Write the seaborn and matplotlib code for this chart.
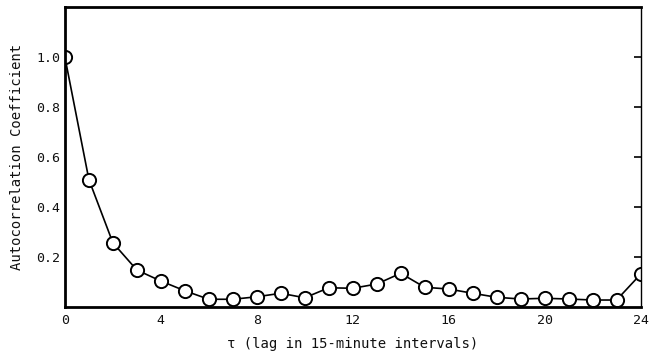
import matplotlib
matplotlib.use("Agg")
import matplotlib.pyplot as plt
import seaborn as sns
import pandas as pd

lags = list(range(25))
acf = [1.0, 0.51, 0.257, 0.148, 0.104, 0.065, 0.031, 0.031, 0.041, 0.055,
       0.037, 0.077, 0.075, 0.092, 0.135, 0.079, 0.072, 0.055, 0.039, 0.032,
       0.035, 0.032, 0.028, 0.028, 0.131]
xtick_vals = [0, 4, 8, 12, 16, 20, 24]
ytick_vals = [0.2, 0.4, 0.6, 0.8, 1.0]
ytick_labels = ["0.2", "0.4", "0.6", "0.8", "1.0"]

sns.set_style("white")
plt.rcParams['font.family'] = ['DejaVu Sans Mono']

df = pd.DataFrame({"lag": lags, "acf": acf})

fig = plt.figure(figsize=(6.49, 3.57), dpi=100)
ax = fig.add_axes([0.100, 0.140, 0.887, 0.840])

sns.lineplot(data=df, x="lag", y="acf", ax=ax, color="black", linewidth=1.2,
             marker="o", markersize=9.5, markerfacecolor="white",
             markeredgecolor="black", markeredgewidth=1.4)

ax.set_xlim(0, 24)
ax.set_ylim(0, 1.2)
ax.set_xticks(xtick_vals)
ax.set_xticks(lags, minor=True)
ax.set_yticks(ytick_vals)
ax.set_yticklabels(ytick_labels)
ax.tick_params(axis="both", which="both", direction="in", labelsize=9.5,
               color="black", labelcolor="#111111")
ax.tick_params(axis="x", which="major", length=7, width=1.2, pad=5)
ax.tick_params(axis="x", which="minor", length=5, width=1.2)
ax.tick_params(axis="y", which="major", length=5, width=1.2, right=True)

for s in ax.spines.values():
    s.set_color("black")
    s.set_linewidth(2.0)
ax.spines["right"].set_linewidth(1.0)

ax.set_xlabel("τ (lag in 15-minute intervals)", fontsize=10, labelpad=7, color="#111111")
ax.set_ylabel("Autocorrelation Coefficient", fontsize=10, labelpad=9, color="#111111")

fig.savefig("out.png", dpi=100)
